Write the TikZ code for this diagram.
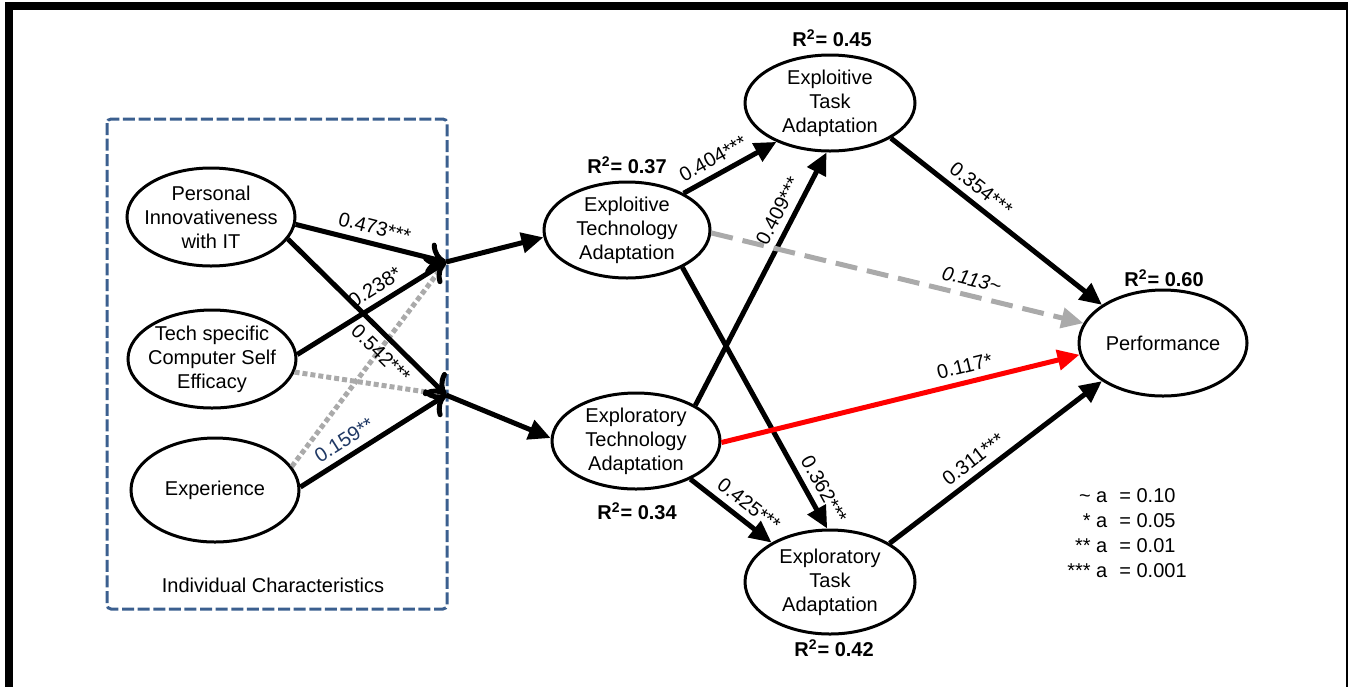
\documentclass[tikz,border=0pt]{standalone}
\usepackage{fontspec}
\setmainfont{Liberation Sans}
\usetikzlibrary{arrows.meta,shapes.geometric}
\definecolor{boxblue}{RGB}{59,95,143}
\definecolor{lblblue}{RGB}{31,56,100}
\definecolor{pathgray}{RGB}{170,170,170}
\definecolor{pathred}{RGB}{255,0,0}

\begin{document}
\begin{tikzpicture}[x=0.5pt,y=-0.5pt,
    latent/.style={ellipse,draw,line width=1.5pt,minimum width=84pt,minimum height=49pt,inner xsep=-12pt,inner ysep=-6pt,align=center},
    rsq/.style={font=\bfseries},
    effect/.style={line width=2.5pt,-{Triangle[length=11pt,width=10pt]}},
    toj/.style={line width=2.5pt,-{Computer Modern Rightarrow[length=9pt,width=16pt,line width=2.5pt]}},
    nsdot/.style={line width=2.5pt,pathgray,dash pattern=on 2.5pt off 1.5pt},
    coef/.style={sloped,above}]
        \useasboundingbox (0,0) rectangle (1348,687);
        \fill (5,2) rectangle (1348,10);
        \fill (5,2) rectangle (13,687);
        \fill (1346,2) rectangle (1348,687);
        \draw [boxblue,line width=1.5pt,dash pattern=on 6pt off 1.8pt,rounded corners=2pt] (107,119) rectangle (447,609);
        \node (iclbl) at (273,585) {Individual Characteristics};
        \node (pi) [latent] at (211,217) {Personal\\Innovativeness\\with IT};
        \node (ts) [latent] at (212,359) {Tech specific\\Computer Self\\Efficacy};
        \node (exper) [latent,minimum height=52pt] at (215,490) {Experience};
        \node (eta) [latent,minimum width=83pt,minimum height=48pt] at (627,230) {Exploitive\\Technology\\Adaptation};
        \node (xta) [latent,minimum height=48pt] at (636,441) {Exploratory\\Technology\\Adaptation};
        \node (etk) [latent,minimum width=85pt,minimum height=48pt] at (830,103) {Exploitive\\Task\\Adaptation};
        \node (xtk) [latent,minimum width=85pt,minimum height=52pt] at (830,582) {Exploratory\\Task\\Adaptation};
        \node (perf) [latent,minimum height=53pt] at (1163,343) {Performance};
        \coordinate (j1) at (446,262);
        \coordinate (j2) at (446,395);
        \draw [nsdot] (exper.17) -- (j1);
        \draw [nsdot] (ts.-9) -- (j2);
        \draw [toj] (pi.-5) -- node[coef,pos=0.5] {0.473***} (j1);
        \draw [toj] (ts.3) -- node[coef,pos=0.58] {0.238*} (j1);
        \draw [toj] (pi.-16) -- node[coef,below,pos=0.66] {0.542***} (j2);
        \draw [toj] (exper.2) -- node[coef,pos=0.36,text=lblblue] {0.159**} (j2);
        \draw [effect] (j1) -- (eta.185);
        \draw [effect] (j2) -- (xta.178);
        \draw [effect] (eta.33) -- node[coef,pos=0.4] {0.404***} (etk.216);
        \draw [effect] (xta.31) -- node[coef,pos=0.74] {0.409***} (etk.266);
        \draw [effect] (eta.-34.5) -- node[coef,pos=0.88] {0.362***} (xtk.93);
        \draw [effect] (xta.-35) -- node[coef,pos=0.6] {0.425***} (xtk.146);
        \draw [effect] (etk.-30) -- node[coef,pos=0.38] {0.354***} (perf.148);
        \draw [effect,pathgray,dash pattern=on 11pt off 5pt] (eta.-2) -- node[coef,pos=0.69,text=black] {\textit{0.113\textasciitilde}} (perf.166);
        \draw [effect,pathred] (xta.-1) -- node[coef,pos=0.69,text=black] {0.117*} (perf.188);
        \draw [effect] (xtk.33) -- node[coef,pos=0.44] {0.311***} (perf.212);
        \node (r45) [rsq] at (832,38) {R\textsuperscript{2}= 0.45};
        \node (r37) [rsq] at (627,165) {R\textsuperscript{2}= 0.37};
        \node (r34) [rsq] at (637,511) {R\textsuperscript{2}= 0.34};
        \node (r42) [rsq] at (834,648) {R\textsuperscript{2}= 0.42};
        \node (r60) [rsq] at (1164,278) {R\textsuperscript{2}= 0.60};
        \node (sig) at (1127,535) {\def\arraystretch{1.04}\begin{tabular}{@{}r@{\hspace{6pt}}l@{}}
            \textasciitilde{} a & = 0.10\\
            {*} a & = 0.05\\
            {**} a & = 0.01\\
            {***} a & = 0.001
        \end{tabular}};
    \end{tikzpicture}
\end{document}
